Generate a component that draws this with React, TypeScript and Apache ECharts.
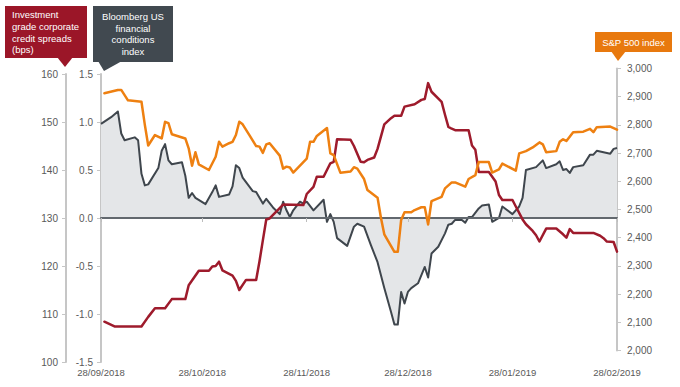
import React, { useEffect, useRef } from "react";
import * as echarts from "echarts";

// ---- data ----
const xTickLabels = ["28/09/2018", "28/10/2018", "28/11/2018", "28/12/2018", "28/01/2019", "28/02/2019"];

const fciDates = [
  "2018-09-28", "2018-10-01", "2018-10-03", "2018-10-04", "2018-10-05", "2018-10-08", "2018-10-09", "2018-10-10", "2018-10-11", "2018-10-12",
  "2018-10-15", "2018-10-16", "2018-10-17", "2018-10-18", "2018-10-19", "2018-10-22", "2018-10-23", "2018-10-24", "2018-10-25", "2018-10-26",
  "2018-10-29", "2018-10-31", "2018-11-01", "2018-11-02", "2018-11-05", "2018-11-06", "2018-11-07", "2018-11-08", "2018-11-09", "2018-11-12",
  "2018-11-13", "2018-11-15", "2018-11-16", "2018-11-18", "2018-11-20", "2018-11-21", "2018-11-22", "2018-11-23", "2018-11-24", "2018-11-26",
  "2018-11-27", "2018-11-28", "2018-11-30", "2018-12-03", "2018-12-04", "2018-12-05", "2018-12-06", "2018-12-07", "2018-12-10", "2018-12-12",
  "2018-12-13", "2018-12-15", "2018-12-17", "2018-12-19", "2018-12-21", "2018-12-23", "2018-12-24", "2018-12-25", "2018-12-26", "2018-12-27",
  "2018-12-28", "2018-12-29", "2018-12-31", "2019-01-02", "2019-01-03", "2019-01-04", "2019-01-06", "2019-01-08", "2019-01-09", "2019-01-10",
  "2019-01-11", "2019-01-13", "2019-01-14", "2019-01-15", "2019-01-16", "2019-01-18", "2019-01-19", "2019-01-21", "2019-01-22", "2019-01-24",
  "2019-01-25", "2019-01-28", "2019-01-30", "2019-01-31", "2019-02-01", "2019-02-04", "2019-02-06", "2019-02-07", "2019-02-10", "2019-02-11",
  "2019-02-12", "2019-02-13", "2019-02-14", "2019-02-15", "2019-02-18", "2019-02-20", "2019-02-21", "2019-02-22", "2019-02-26", "2019-02-27",
  "2019-02-28",
];
const fciValues = [
  0.98, 1.05, 1.11, 0.88, 0.81, 0.84, 0.81, 0.46, 0.34, 0.35,
  0.52, 0.7, 0.77, 0.6, 0.56, 0.58, 0.44, 0.21, 0.26, 0.21,
  0.145, 0.27, 0.34, 0.22, 0.245, 0.33, 0.55, 0.52, 0.42, 0.28,
  0.27, 0.15, 0.2, 0.11, 0.04, 0.17, 0.08, 0.01, 0.08, 0.17,
  0.15, 0.17, 0.08, 0.19, -0.04, 0.04, -0.04, -0.21, -0.29, -0.09,
  -0.06, -0.09, -0.28, -0.46, -0.73, -0.98, -1.11, -1.11, -0.77, -0.89,
  -0.77, -0.73, -0.68, -0.51, -0.62, -0.37, -0.3, -0.16, -0.07, -0.06,
  -0.02, -0.02, -0.05, 0.01, 0.01, 0.1, 0.13, 0.14, -0.04, 0.0,
  0.12, 0.04, 0.12, 0.21, 0.5, 0.53, 0.6, 0.52, 0.56, 0.59,
  0.5, 0.51, 0.47, 0.53, 0.55, 0.66, 0.66, 0.7, 0.67, 0.72,
  0.73,
];

const spreadDates = [
  "2018-09-29", "2018-10-02", "2018-10-10", "2018-10-12", "2018-10-14", "2018-10-17", "2018-10-19", "2018-10-23", "2018-10-24", "2018-10-27",
  "2018-10-30", "2018-10-31", "2018-11-01", "2018-11-02", "2018-11-03", "2018-11-06", "2018-11-07", "2018-11-08", "2018-11-10", "2018-11-13",
  "2018-11-14", "2018-11-15", "2018-11-16", "2018-11-17", "2018-11-21", "2018-11-27", "2018-11-28", "2018-11-30", "2018-12-01", "2018-12-03",
  "2018-12-05", "2018-12-06", "2018-12-07", "2018-12-11", "2018-12-12", "2018-12-14", "2018-12-15", "2018-12-16", "2018-12-18", "2018-12-19",
  "2018-12-21", "2018-12-23", "2018-12-24", "2018-12-26", "2018-12-27", "2018-12-30", "2019-01-01", "2019-01-02", "2019-01-03", "2019-01-04",
  "2019-01-07", "2019-01-08", "2019-01-09", "2019-01-10", "2019-01-11", "2019-01-15", "2019-01-16", "2019-01-17", "2019-01-18", "2019-01-21",
  "2019-01-23", "2019-01-24", "2019-01-25", "2019-01-28", "2019-01-29", "2019-01-31", "2019-02-01", "2019-02-03", "2019-02-04", "2019-02-05",
  "2019-02-07", "2019-02-10", "2019-02-12", "2019-02-13", "2019-02-14", "2019-02-15", "2019-02-21", "2019-02-23", "2019-02-24", "2019-02-25",
  "2019-02-27", "2019-02-28",
];
const spreadValues = [
  108.4, 107.4, 107.4, 109.4, 111.2, 111.2, 113.1, 113.1, 116.0, 119.0,
  119.0, 119.9, 120.0, 120.9, 119.1, 118.0, 116.9, 115.0, 117.1, 117.1,
  121.0, 125.4, 129.7, 129.9, 132.8, 132.7, 135.0, 136.5, 138.6, 138.6,
  141.4, 141.7, 146.4, 146.3, 145.0, 141.7, 141.6, 142.1, 142.6, 144.4,
  149.5, 150.8, 151.3, 151.3, 153.2, 153.7, 154.6, 154.8, 158.1, 156.3,
  154.2, 151.5, 149.0, 148.6, 148.3, 148.3, 145.1, 144.2, 139.6, 139.6,
  137.6, 134.8, 133.75, 133.75, 132.4, 129.7, 128.7, 127.3, 126.4, 125.1,
  127.8, 127.8, 126.6, 125.9, 127.7, 126.9, 126.9, 126.3, 125.8, 125.1,
  125.0, 123.0,
];

const spxDates = [
  "2018-09-29", "2018-10-03", "2018-10-04", "2018-10-06", "2018-10-10", "2018-10-11", "2018-10-12", "2018-10-14", "2018-10-16", "2018-10-17",
  "2018-10-18", "2018-10-19", "2018-10-23", "2018-10-24", "2018-10-25", "2018-10-26", "2018-10-27", "2018-10-30", "2018-11-01", "2018-11-02",
  "2018-11-03", "2018-11-05", "2018-11-06", "2018-11-07", "2018-11-08", "2018-11-09", "2018-11-11", "2018-11-13", "2018-11-14", "2018-11-15",
  "2018-11-16", "2018-11-17", "2018-11-20", "2018-11-21", "2018-11-22", "2018-11-23", "2018-11-24", "2018-11-28", "2018-11-29", "2018-11-30",
  "2018-12-01", "2018-12-04", "2018-12-05", "2018-12-06", "2018-12-08", "2018-12-11", "2018-12-12", "2018-12-13", "2018-12-15", "2018-12-16",
  "2018-12-19", "2018-12-20", "2018-12-21", "2018-12-24", "2018-12-25", "2018-12-26", "2018-12-27", "2018-12-29", "2018-12-30", "2019-01-01",
  "2019-01-02", "2019-01-03", "2019-01-04", "2019-01-07", "2019-01-08", "2019-01-10", "2019-01-11", "2019-01-14", "2019-01-15", "2019-01-17",
  "2019-01-18", "2019-01-21", "2019-01-22", "2019-01-24", "2019-01-25", "2019-01-29", "2019-01-30", "2019-02-01", "2019-02-03", "2019-02-05",
  "2019-02-06", "2019-02-07", "2019-02-10", "2019-02-11", "2019-02-12", "2019-02-13", "2019-02-15", "2019-02-18", "2019-02-20", "2019-02-21",
  "2019-02-22", "2019-02-26", "2019-02-28",
];
const spxValues = [
  2912, 2924, 2924, 2887, 2882, 2800, 2727, 2764, 2752, 2811,
  2806, 2767, 2752, 2717, 2655, 2703, 2660, 2640, 2687, 2740,
  2723, 2735, 2740, 2764, 2811, 2802, 2764, 2725, 2723, 2701,
  2731, 2735, 2691, 2645, 2652, 2649, 2631, 2680, 2740, 2740,
  2761, 2789, 2699, 2693, 2630, 2635, 2650, 2645, 2608, 2569,
  2542, 2471, 2412, 2350, 2350, 2463, 2490, 2490, 2498, 2508,
  2508, 2447, 2530, 2545, 2575, 2596, 2596, 2581, 2608, 2622,
  2668, 2668, 2631, 2642, 2663, 2638, 2699, 2707, 2720, 2738,
  2731, 2703, 2707, 2740, 2749, 2743, 2774, 2776, 2786, 2774,
  2792, 2794, 2783,
];

// ---- helpers ----
const START = Date.UTC(2018, 8, 28);
const DAY = 86400000;
const isoDay = (s: string) => {
  const [y, m, d] = s.split("-").map(Number);
  return Math.round((Date.UTC(y, m - 1, d) - START) / DAY);
};
const labelDay = (s: string) => {
  const [d, m, y] = s.split("/").map(Number);
  return Math.round((Date.UTC(y, m - 1, d) - START) / DAY);
};
const pairs = (dates: string[], vals: number[]) => dates.map((d, i) => [isoDay(d), vals[i]]);

const FONT = '"Liberation Sans", Arial, Helvetica, sans-serif';
const LABEL_COLOR = "#595959";
const AXIS_COLOR = "#c6c6c6";

export default function App() {
  const ref = useRef<HTMLDivElement>(null);

  useEffect(() => {
    document.body.style.margin = "0";
    if (!ref.current) return;
    const chart = echarts.init(ref.current, null, { renderer: "svg" });

    const tickDays = xTickLabels.map(labelDay);
    const maxDay = tickDays[tickDays.length - 1];
    const dayToLabel = (v: number) => {
      const i = tickDays.indexOf(Math.round(v));
      return i >= 0 ? xTickLabels[i] : "";
    };

    const yAxisCommon = {
      splitLine: { show: false },
      axisLine: { show: true, onZero: false, lineStyle: { color: AXIS_COLOR, width: 2 } },
      axisTick: { show: true, length: 4, lineStyle: { color: AXIS_COLOR, width: 1 } },
    };

    const option: any = {
      animation: false,
      textStyle: { fontFamily: FONT },
      grid: [
        { left: 101, right: 63, top: 74, bottom: 25 },
        { left: 101, right: 63, top: 68.5, bottom: 36.5 },
      ],
      xAxis: [
        {
          type: "value",
          gridIndex: 0,
          position: "bottom",
          min: 0,
          max: maxDay,
          axisLine: { show: false, onZero: false },
          axisTick: { show: false },
          splitLine: { show: false },
          axisLabel: {
            customValues: tickDays,
            formatter: dayToLabel,
            color: LABEL_COLOR,
            fontSize: 9.5,
            fontFamily: FONT,
            margin: 5,
            showMinLabel: true,
            showMaxLabel: true,
          },
        },
        {
          type: "value",
          gridIndex: 0,
          position: "bottom",
          min: 0,
          max: maxDay,
          z: 3,
          axisLine: { show: true, onZero: true, onZeroAxisIndex: 1, lineStyle: { color: "#62686e", width: 2 } },
          axisTick: { show: true, customValues: tickDays, length: 4, lineStyle: { color: "#bdbdbd", width: 1 } },
          axisLabel: { show: false },
          splitLine: { show: false },
        },
        {
          type: "value",
          gridIndex: 1,
          min: 0,
          max: maxDay,
          show: false,
        },
      ],
      yAxis: [
        {
          ...yAxisCommon,
          type: "value",
          gridIndex: 0,
          position: "left",
          offset: 35,
          min: 100,
          max: 160,
          interval: 10,
          axisLabel: { color: LABEL_COLOR, fontSize: 10, fontFamily: FONT, margin: 8 },
        },
        {
          ...yAxisCommon,
          type: "value",
          gridIndex: 0,
          position: "left",
          offset: 0,
          min: -1.5,
          max: 1.5,
          interval: 0.5,
          axisLabel: {
            color: LABEL_COLOR,
            fontSize: 10,
            fontFamily: FONT,
            margin: 8,
            formatter: (v: number) => v.toFixed(1),
          },
        },
        {
          ...yAxisCommon,
          type: "value",
          gridIndex: 1,
          position: "right",
          min: 2000,
          max: 3000,
          interval: 100,
          axisLabel: {
            color: LABEL_COLOR,
            fontSize: 10,
            fontFamily: FONT,
            margin: 10,
            formatter: (v: number) => v.toLocaleString("en-US"),
          },
        },
      ],
      series: [
        {
          name: "Bloomberg US financial conditions index",
          type: "line",
          xAxisIndex: 0,
          yAxisIndex: 1,
          data: pairs(fciDates, fciValues),
          symbol: "none",
          z: 2,
          lineStyle: { color: "#3f464d", width: 2, join: "round" },
          areaStyle: { color: "#e4e6e8", opacity: 1, origin: 0 },
        },
        {
          name: "Investment grade corporate credit spreads (bps)",
          type: "line",
          xAxisIndex: 0,
          yAxisIndex: 0,
          data: pairs(spreadDates, spreadValues),
          symbol: "none",
          z: 4,
          lineStyle: { color: "#9e1b2c", width: 2.5, join: "round", cap: "round" },
        },
        {
          name: "S&P 500 index",
          type: "line",
          xAxisIndex: 2,
          yAxisIndex: 2,
          data: pairs(spxDates, spxValues),
          symbol: "none",
          z: 4,
          lineStyle: { color: "#ee8011", width: 2.5, join: "round", cap: "round" },
        },
      ],
      graphic: [
        // credit spreads callout
        { type: "rect", shape: { x: 5, y: 6, width: 82, height: 52 }, style: { fill: "#9b1628" }, z: 10 },
        { type: "polygon", shape: { points: [[57, 57], [73, 57], [65, 67]] }, style: { fill: "#9b1628" }, z: 10 },
        {
          type: "text",
          x: 12,
          y: 9,
          z: 11,
          style: {
            text: "Investment\ngrade corporate\ncredit spreads\n(bps)",
            fill: "#ffffff",
            fontSize: 9.5,
            fontFamily: FONT,
            lineHeight: 11.7,
            align: "left",
            verticalAlign: "top",
          },
        },
        // FCI callout
        { type: "rect", shape: { x: 93, y: 6, width: 80, height: 56 }, style: { fill: "#414950" }, z: 10 },
        { type: "polygon", shape: { points: [[98, 61], [104, 71], [122, 61]] }, style: { fill: "#414950" }, z: 10 },
        {
          type: "text",
          x: 133,
          y: 11,
          z: 11,
          style: {
            text: "Bloomberg US\nfinancial\nconditions\nindex",
            fill: "#ffffff",
            fontSize: 9.5,
            fontFamily: FONT,
            lineHeight: 11.5,
            align: "center",
            verticalAlign: "top",
          },
        },
        // S&P callout
        { type: "rect", shape: { x: 595, y: 32, width: 77, height: 20 }, style: { fill: "#e8790e" }, z: 10 },
        { type: "polygon", shape: { points: [[611, 51], [626, 51], [618, 61]] }, style: { fill: "#e8790e" }, z: 10 },
        {
          type: "text",
          x: 633.5,
          y: 42,
          z: 11,
          style: {
            text: "S&P 500 index",
            fill: "#ffffff",
            fontSize: 9.5,
            fontFamily: FONT,
            align: "center",
            verticalAlign: "middle",
          },
        },
      ],
    };

    chart.setOption(option);
    return () => chart.dispose();
  }, []);

  return <div ref={ref} style={{ width: 680, height: 387 }} />;
}
